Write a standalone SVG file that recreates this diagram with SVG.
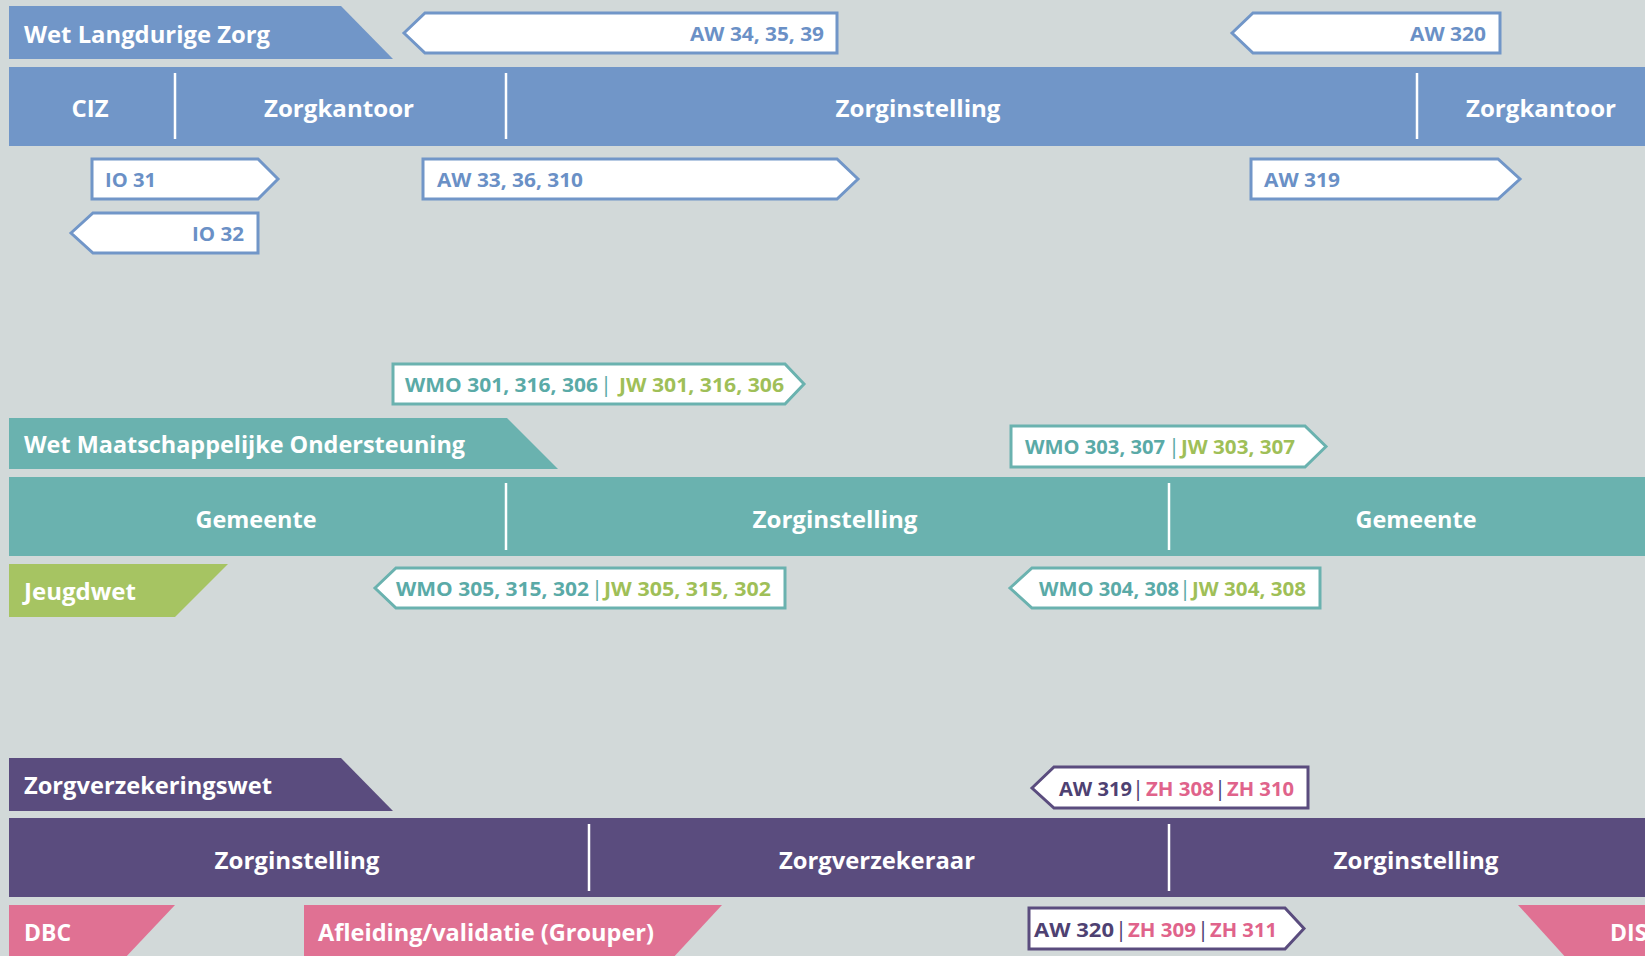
<svg xmlns="http://www.w3.org/2000/svg" width="1645" height="956" viewBox="0 0 1645 956">
<style>
text{font-family:"Open Sans","Noto Sans","Liberation Sans",sans-serif;font-weight:700;}
.w{fill:#ffffff;font-size:23px;}
.lbl{font-size:20px;}
.pipe{font-weight:400;font-size:22px;text-anchor:middle;}
.bl{fill:#7196c8;}
.te{fill:#6ab2af;}
.gr{fill:#a6c462;}
.pu{fill:#5a4c7e;}
.pk{fill:#e07193;}
.tb{fill:#6a90c6;}
.tt{fill:#5aaaa7;}
.tg{fill:#9fbf58;}
.tp{fill:#4e4172;}
.tk{fill:#e0638b;}
.div{stroke:#ffffff;stroke-width:2.5;}
.ab{fill:#ffffff;stroke:#7196c8;stroke-width:3;}
.at{fill:#ffffff;stroke:#6ab2af;stroke-width:3;}
.ap{fill:#ffffff;stroke:#5a4c7e;stroke-width:3;}
</style>
<rect x="0" y="0" width="1645" height="956" fill="#d2d9d9"/>

<!-- Section WLZ -->
<g id="wlz-title">
<polygon class="bl" points="9,6 341,6 393,59 9,59"/>
<text class="w" x="24" y="43" textLength="246" lengthAdjust="spacingAndGlyphs">Wet Langdurige Zorg</text>
</g>
<g id="wlz-bar">
<rect class="bl" x="9" y="67" width="1636" height="79"/>
<line class="div" x1="175" y1="73" x2="175" y2="139"/>
<line class="div" x1="506" y1="73" x2="506" y2="139"/>
<line class="div" x1="1417" y1="73" x2="1417" y2="139"/>
<text class="w" x="90" y="117" text-anchor="middle" textLength="37" lengthAdjust="spacingAndGlyphs">CIZ</text>
<text class="w" x="339" y="117" text-anchor="middle" textLength="150" lengthAdjust="spacingAndGlyphs">Zorgkantoor</text>
<text class="w" x="918" y="117" text-anchor="middle" textLength="165" lengthAdjust="spacingAndGlyphs">Zorginstelling</text>
<text class="w" x="1541" y="117" text-anchor="middle" textLength="150" lengthAdjust="spacingAndGlyphs">Zorgkantoor</text>
</g>

<g id="connectors">
<g id="aw34">
<polygon class="ab" points="404,33 425,13 837,13 837,53 425,53"/>
<text class="lbl tb" x="690" y="41" textLength="134" lengthAdjust="spacingAndGlyphs">AW 34, 35, 39</text>
</g>
<g id="aw320-top">
<polygon class="ab" points="1232,33 1253,13 1500,13 1500,53 1253,53"/>
<text class="lbl tb" x="1410" y="41" textLength="76" lengthAdjust="spacingAndGlyphs">AW 320</text>
</g>
<g id="io31">
<polygon class="ab" points="92,159 258,159 278,179 258,199 92,199"/>
<text class="lbl tb" x="105" y="187" textLength="51" lengthAdjust="spacingAndGlyphs">IO 31</text>
</g>
<g id="aw33">
<polygon class="ab" points="423,159 837,159 858,179 837,199 423,199"/>
<text class="lbl tb" x="437" y="187" textLength="146" lengthAdjust="spacingAndGlyphs">AW 33, 36, 310</text>
</g>
<g id="aw319-top">
<polygon class="ab" points="1251,159 1498,159 1520,179 1498,199 1251,199"/>
<text class="lbl tb" x="1264" y="187" textLength="76" lengthAdjust="spacingAndGlyphs">AW 319</text>
</g>
<g id="io32">
<polygon class="ab" points="71,233 93,213 258,213 258,253 93,253"/>
<text class="lbl tb" x="192" y="241" textLength="52" lengthAdjust="spacingAndGlyphs">IO 32</text>
</g>

<g id="wmo301">
<polygon class="at" points="393,364 785,364 804,384 785,404 393,404"/>
<text class="lbl tt" x="405" y="392" textLength="193" lengthAdjust="spacingAndGlyphs">WMO 301, 316, 306</text>
<text class="lbl tt pipe" x="606" y="392">|</text>
<text class="lbl tg" x="619" y="392" textLength="165" lengthAdjust="spacingAndGlyphs">JW 301, 316, 306</text>
</g>
<g id="wmo303">
<polygon class="at" points="1011,426 1305,426 1326,446.5 1305,467 1011,467"/>
<text class="lbl tt" x="1025" y="454" textLength="140" lengthAdjust="spacingAndGlyphs">WMO 303, 307</text>
<text class="lbl tt pipe" x="1174" y="454">|</text>
<text class="lbl tg" x="1181" y="454" textLength="114" lengthAdjust="spacingAndGlyphs">JW 303, 307</text>
</g>
<g id="wmo305">
<polygon class="at" points="375,588 396,568 785,568 785,608 396,608"/>
<text class="lbl tt" x="396" y="596" textLength="193" lengthAdjust="spacingAndGlyphs">WMO 305, 315, 302</text>
<text class="lbl tt pipe" x="597" y="596">|</text>
<text class="lbl tg" x="604" y="596" textLength="167" lengthAdjust="spacingAndGlyphs">JW 305, 315, 302</text>
</g>
<g id="wmo304">
<polygon class="at" points="1010,588 1032,568 1320,568 1320,608 1032,608"/>
<text class="lbl tt" x="1039" y="596" textLength="140" lengthAdjust="spacingAndGlyphs">WMO 304, 308</text>
<text class="lbl tt pipe" x="1185" y="596">|</text>
<text class="lbl tg" x="1192" y="596" textLength="114" lengthAdjust="spacingAndGlyphs">JW 304, 308</text>
</g>

<g id="aw319-zh">
<polygon class="ap" points="1032,788 1054,767 1308,767 1308,808 1054,808"/>
<text class="lbl tp" x="1059" y="796" textLength="73" lengthAdjust="spacingAndGlyphs">AW 319</text>
<text class="lbl tp pipe" x="1138" y="796">|</text>
<text class="lbl tk" x="1146" y="796" textLength="68" lengthAdjust="spacingAndGlyphs">ZH 308</text>
<text class="lbl tp pipe" x="1220" y="796">|</text>
<text class="lbl tk" x="1227" y="796" textLength="67" lengthAdjust="spacingAndGlyphs">ZH 310</text>
</g>
<g id="aw320-zh">
<polygon class="ap" points="1029,908 1285,908 1304,928.5 1285,949 1029,949"/>
<text class="lbl tp" x="1034" y="937" textLength="80" lengthAdjust="spacingAndGlyphs">AW 320</text>
<text class="lbl tp pipe" x="1121" y="937">|</text>
<text class="lbl tk" x="1128" y="937" textLength="68" lengthAdjust="spacingAndGlyphs">ZH 309</text>
<text class="lbl tp pipe" x="1203" y="937">|</text>
<text class="lbl tk" x="1210" y="937" textLength="67" lengthAdjust="spacingAndGlyphs">ZH 311</text>
</g>
</g>

<!-- Section WMO -->
<g id="wmo-title">
<polygon class="te" points="9,418 507,418 558,469 9,469"/>
<text class="w" x="24" y="453" textLength="441" lengthAdjust="spacingAndGlyphs">Wet Maatschappelijke Ondersteuning</text>
</g>
<g id="wmo-bar">
<rect class="te" x="9" y="477" width="1636" height="79"/>
<line class="div" x1="506" y1="483" x2="506" y2="550"/>
<line class="div" x1="1169" y1="483" x2="1169" y2="550"/>
<text class="w" x="256" y="528" text-anchor="middle" textLength="121" lengthAdjust="spacingAndGlyphs">Gemeente</text>
<text class="w" x="835" y="528" text-anchor="middle" textLength="165" lengthAdjust="spacingAndGlyphs">Zorginstelling</text>
<text class="w" x="1416" y="528" text-anchor="middle" textLength="121" lengthAdjust="spacingAndGlyphs">Gemeente</text>
</g>
<g id="jeugdwet-title">
<polygon class="gr" points="9,564 228,564 175,617 9,617"/>
<text class="w" x="24" y="600" textLength="112" lengthAdjust="spacingAndGlyphs">Jeugdwet</text>
</g>

<!-- Section ZVW -->
<g id="zvw-title">
<polygon class="pu" points="9,758 341,758 393,811 9,811"/>
<text class="w" x="24" y="794" textLength="248" lengthAdjust="spacingAndGlyphs">Zorgverzekeringswet</text>
</g>
<g id="zvw-bar">
<rect class="pu" x="9" y="818" width="1636" height="79"/>
<line class="div" x1="589" y1="824" x2="589" y2="891"/>
<line class="div" x1="1169" y1="824" x2="1169" y2="891"/>
<text class="w" x="297" y="869" text-anchor="middle" textLength="165" lengthAdjust="spacingAndGlyphs">Zorginstelling</text>
<text class="w" x="877" y="869" text-anchor="middle" textLength="196" lengthAdjust="spacingAndGlyphs">Zorgverzekeraar</text>
<text class="w" x="1416" y="869" text-anchor="middle" textLength="165" lengthAdjust="spacingAndGlyphs">Zorginstelling</text>
</g>
<g id="dbc-title">
<polygon class="pk" points="9,905 175,905 123,960 9,960"/>
<text class="w" x="24" y="941" textLength="47" lengthAdjust="spacingAndGlyphs">DBC</text>
</g>
<g id="afleiding-title">
<polygon class="pk" points="304,905 722,905 671,960 304,960"/>
<text class="w" x="318" y="941" textLength="336" lengthAdjust="spacingAndGlyphs">Afleiding/validatie (Grouper)</text>
</g>
<g id="dis-title">
<polygon class="pk" points="1518,905 1645,905 1645,960 1568,960"/>
<text class="w" x="1610" y="941">DIS</text>
</g>
</svg>
